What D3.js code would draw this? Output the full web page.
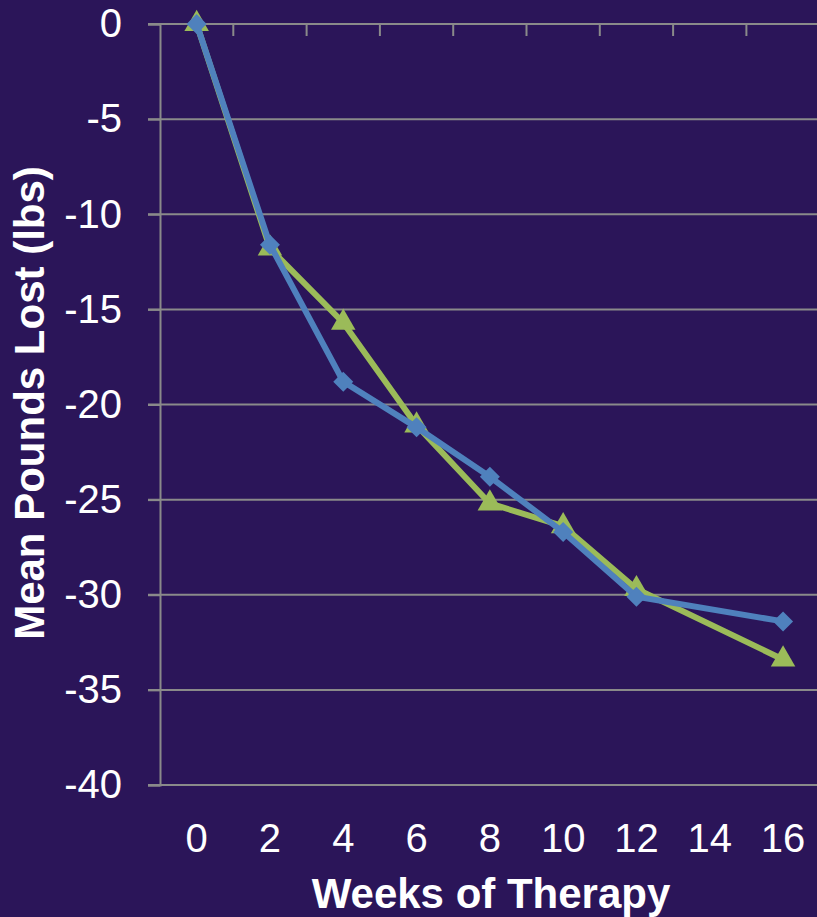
<!DOCTYPE html>
<html>
<head>
<meta charset="utf-8">
<script src="https://cdn.jsdelivr.net/npm/d3@7"></script>
<style>
  body { margin: 0; background: #2b1559; overflow: hidden; }
  svg { display: block; }
  text { font-family: "Liberation Sans", Arial, sans-serif; fill: #fff; }
</style>
</head>
<body>
<svg width="817" height="917"></svg>
<script>
// weeks and values
var weeks = [0, 2, 4, 6, 8, 10, 12, 14, 16];
var greenWeeks = [0, 2, 4, 6, 8, 10, 12, 16];
var greenVals = [0, -11.8, -15.7, -21.1, -25.2, -26.4, -29.7, -33.4];
var blueWeeks = [0, 2, 4, 6, 8, 10, 12, 16];
var blueVals = [0, -11.6, -18.8, -21.2, -23.8, -26.7, -30.1, -31.4];
var yTicks = [0, -5, -10, -15, -20, -25, -30, -35, -40];

var svg = d3.select('svg');

var xScale = d3.scaleBand()
    .domain(weeks)
    .range([160, 160 + 9 * 73.3]);
var yScale = d3.scaleLinear()
    .domain([-40, 0])
    .range([785, 24]);

function cx(w) { return xScale(w) + xScale.bandwidth() / 2; }

// gridlines
svg.append('g')
    .selectAll('line')
    .data(yTicks)
    .enter()
    .append('line')
        .attr('x1', 148)
        .attr('x2', 817)
        .attr('y1', d => yScale(d))
        .attr('y2', d => yScale(d))
        .attr('stroke', '#8a8a8a')
        .attr('stroke-width', 2);

// y axis
var yAxis = svg.append('g')
    .attr('transform', 'translate(160,0)')
    .call(d3.axisLeft(yScale).tickValues(yTicks).tickSize(12).tickPadding(26)
        .tickFormat(d => String(d).replace('\u2212', '-')));
yAxis.select('.domain').attr('stroke', '#8a8a8a').attr('stroke-width', 2);
yAxis.selectAll('.tick line').attr('stroke', '#8a8a8a').attr('stroke-width', 2);
yAxis.selectAll('.tick text')
    .attr('fill', '#fff')
    .style('font-size', '40px')
    .style('font-family', '"Liberation Sans", Arial, sans-serif');

// x axis at zero, ticks between categories
var boundaries = weeks.map(w => xScale(w) + xScale.bandwidth());
svg.append('g')
    .selectAll('line')
    .data(boundaries)
    .enter()
    .append('line')
        .attr('x1', d => d)
        .attr('x2', d => d)
        .attr('y1', yScale(0))
        .attr('y2', yScale(0) + 12)
        .attr('stroke', '#8a8a8a')
        .attr('stroke-width', 2);

// x labels at bottom
svg.append('g')
    .selectAll('text')
    .data(weeks)
    .enter()
    .append('text')
        .attr('x', d => cx(d))
        .attr('y', 852)
        .attr('text-anchor', 'middle')
        .style('font-size', '40px')
        .text(d => d);

// axis titles
svg.append('text')
    .attr('x', 491)
    .attr('y', 908)
    .attr('text-anchor', 'middle')
    .style('font-size', '42px')
    .style('font-weight', 'bold')
    .text('Weeks of Therapy');

svg.append('text')
    .attr('transform', 'translate(44,403) rotate(-90)')
    .attr('text-anchor', 'middle')
    .style('font-size', '42px')
    .style('font-weight', 'bold')
    .text('Mean Pounds Lost (lbs)');

// series
var line = d3.line()
    .x(d => cx(d[0]))
    .y(d => yScale(d[1]));

var green = greenWeeks.map((w, i) => [w, greenVals[i]]);
var blue = blueWeeks.map((w, i) => [w, blueVals[i]]);

svg.append('path')
    .datum(green)
    .attr('d', line)
    .attr('fill', 'none')
    .attr('stroke', '#9bbb59')
    .attr('stroke-width', 6);
svg.append('g')
    .selectAll('path')
    .data(green)
    .enter()
    .append('path')
        .attr('d', d3.symbol().type(d3.symbolTriangle).size(260))
        .attr('transform', d => 'translate(' + cx(d[0]) + ',' + yScale(d[1]) + ')')
        .attr('fill', '#9bbb59');

svg.append('path')
    .datum(blue)
    .attr('d', line)
    .attr('fill', 'none')
    .attr('stroke', '#4f81bd')
    .attr('stroke-width', 6);
svg.append('g')
    .selectAll('path')
    .data(blue)
    .enter()
    .append('path')
        .attr('d', d3.symbol().type(d3.symbolSquare).size(200))
        .attr('transform', d => 'translate(' + cx(d[0]) + ',' + yScale(d[1]) + ') rotate(45)')
        .attr('fill', '#4f81bd');
</script>
</body>
</html>
